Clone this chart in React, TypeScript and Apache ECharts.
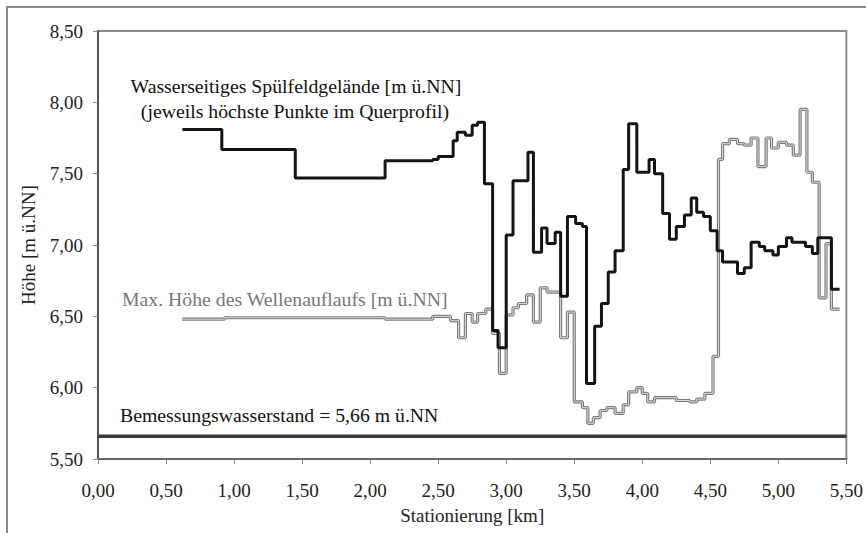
import React, { useEffect, useRef } from "react";
import * as echarts from "echarts";

// Wasserseitiges Spülfeldgelände (step start km, height m ü.NN)
const terrainKm = [0.62, 0.91, 1.45, 2.11, 2.46, 2.50, 2.61, 2.64, 2.70, 2.75, 2.79, 2.84, 2.90, 2.94, 3.00, 3.05, 3.16, 3.20, 3.26, 3.30, 3.36, 3.40, 3.45, 3.51, 3.56, 3.59, 3.65, 3.70, 3.75, 3.80, 3.86, 3.90, 3.96, 4.05, 4.09, 4.15, 4.20, 4.25, 4.31, 4.36, 4.40, 4.45, 4.50, 4.55, 4.59, 4.70, 4.75, 4.80, 4.86, 4.90, 4.96, 5.00, 5.06, 5.10, 5.20, 5.25, 5.29, 5.39, 5.45];
const terrainH = [7.81, 7.67, 7.47, 7.59, 7.60, 7.62, 7.73, 7.79, 7.77, 7.84, 7.86, 7.43, 6.40, 6.28, 7.07, 7.45, 7.65, 6.95, 7.12, 7.01, 7.09, 6.64, 7.20, 7.15, 7.13, 6.03, 6.43, 6.59, 6.81, 6.96, 7.53, 7.85, 7.51, 7.60, 7.50, 7.22, 7.04, 7.13, 7.21, 7.33, 7.23, 7.20, 7.10, 6.96, 6.88, 6.80, 6.84, 7.02, 6.99, 6.96, 6.93, 6.99, 7.05, 7.02, 6.99, 6.94, 7.05, 6.69, 6.69];

// Max. Höhe des Wellenauflaufs (step start km, height m ü.NN)
const runupKm = [0.62, 0.93, 2.11, 2.46, 2.59, 2.65, 2.70, 2.75, 2.79, 2.85, 2.90, 2.95, 3.00, 3.05, 3.09, 3.15, 3.20, 3.25, 3.30, 3.40, 3.45, 3.50, 3.56, 3.60, 3.64, 3.69, 3.74, 3.80, 3.86, 3.90, 3.96, 4.00, 4.04, 4.09, 4.25, 4.35, 4.40, 4.46, 4.52, 4.56, 4.59, 4.64, 4.70, 4.75, 4.80, 4.85, 4.91, 4.95, 5.00, 5.06, 5.11, 5.16, 5.21, 5.25, 5.30, 5.35, 5.39, 5.45];
const runupH = [6.48, 6.49, 6.48, 6.50, 6.47, 6.35, 6.52, 6.46, 6.52, 6.55, 6.38, 6.10, 6.51, 6.56, 6.59, 6.65, 6.46, 6.70, 6.67, 6.35, 6.53, 5.90, 5.86, 5.75, 5.79, 5.84, 5.86, 5.82, 5.88, 5.97, 6.00, 5.96, 5.90, 5.93, 5.91, 5.90, 5.92, 5.96, 6.22, 7.60, 7.71, 7.74, 7.71, 7.70, 7.75, 7.55, 7.75, 7.68, 7.72, 7.70, 7.63, 7.95, 7.51, 7.44, 6.63, 7.01, 6.55, 6.55];

const designLevelKm = [0, 5.5];
const designLevelH = [5.66, 5.66];

const xMin = 0, xMax = 5.5, xStep = 0.5;
const yMin = 5.5, yMax = 8.5, yStep = 0.5;

const serif = "Liberation Serif";

export default function App() {
  const ref = useRef<HTMLDivElement>(null);
  useEffect(() => {
    if (!ref.current) return;
    const chart = echarts.init(ref.current, null, { renderer: "svg" });
    const pairs = (xs: number[], ys: number[]) => xs.map((x, i) => [x, ys[i]]);
    const fmt = (v: number) => v.toFixed(2).replace(".", ",");
    const txt = (text: string, x: number, y: number, fill: string, align: string) => ({
      type: "text",
      x,
      y,
      scaleX: 1.04,
      style: { text, fontFamily: serif, fontSize: 19, fill, align, verticalAlign: "middle" },
    });
    chart.setOption({
      animation: false,
      backgroundColor: "#ffffff",
      textStyle: { fontFamily: serif },
      grid: {
        left: 98,
        right: 19,
        top: 31,
        bottom: 74,
        show: true,
        borderColor: "#8a8a8a",
        borderWidth: 2,
        backgroundColor: "transparent",
      },
      xAxis: {
        type: "value",
        min: xMin,
        max: xMax,
        interval: xStep,
        name: "Stationierung [km]",
        nameLocation: "middle",
        nameGap: 47,
        nameTextStyle: { fontFamily: serif, fontSize: 19, color: "#222" },
        axisLine: { show: true, lineStyle: { color: "#666", width: 2 } },
        axisTick: { show: true, length: 5, lineStyle: { color: "#888" } },
        axisLabel: { formatter: fmt, fontFamily: serif, fontSize: 19, color: "#222", margin: 22 },
        splitLine: { show: false },
      },
      yAxis: {
        type: "value",
        min: yMin,
        max: yMax,
        interval: yStep,
        name: "Höhe [m ü.NN]",
        nameLocation: "middle",
        nameGap: 60,
        nameRotate: 90,
        nameTextStyle: { fontFamily: serif, fontSize: 19, color: "#222" },
        axisLine: { show: true, lineStyle: { color: "#555", width: 2 } },
        axisTick: { show: true, length: 5, lineStyle: { color: "#888" } },
        axisLabel: { formatter: fmt, fontFamily: serif, fontSize: 19, color: "#222", margin: 15 },
        splitLine: { show: false },
      },
      series: [
        {
          type: "line",
          data: pairs(designLevelKm, designLevelH),
          symbol: "none",
          lineStyle: { color: "#3a3a3a", width: 3.5 },
          silent: true,
        },
        {
          type: "line",
          data: pairs(runupKm, runupH),
          step: "end",
          symbol: "none",
          lineStyle: { color: "#7a7a7a", width: 3.2 },
          silent: true,
        },
        {
          type: "line",
          data: pairs(runupKm, runupH),
          step: "end",
          symbol: "none",
          lineStyle: { color: "#dcdcdc", width: 1 },
          silent: true,
        },
        {
          type: "line",
          data: pairs(terrainKm, terrainH),
          step: "end",
          symbol: "none",
          lineStyle: { color: "#141414", width: 3 },
          silent: true,
        },
      ],
      graphic: [
        {
          type: "rect",
          shape: { x: 7, y: 7, width: 900, height: 560 },
          style: { fill: "none", stroke: "#8a8a8a", lineWidth: 2 },
          silent: true,
          z: 0,
        },
        txt("Wasserseitiges Spülfeldgelände [m ü.NN]", 296, 87, "#111", "center"),
        txt("(jeweils höchste Punkte im Querprofil)", 295, 112, "#111", "center"),
        txt("Max. Höhe des Wellenauflaufs [m ü.NN]", 122, 300, "#777", "left"),
        txt("Bemessungswasserstand = 5,66 m ü.NN", 120, 416, "#111", "left"),
      ],
    });
    return () => chart.dispose();
  }, []);
  return (
    <div
      ref={ref}
      style={{ position: "fixed", left: 0, top: 0, width: 866, height: 533, background: "#fff" }}
    />
  );
}
